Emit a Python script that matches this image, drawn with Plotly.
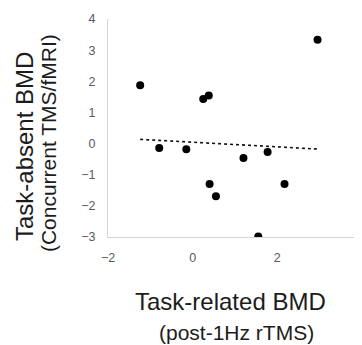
import numpy as np
import plotly.graph_objects as go

# Data
task_related_bmd = [-1.24, 0.25, 0.38, 2.95, -0.79, -0.15, 1.20, 1.77, 0.40, 0.55, 2.17, 1.55]
task_absent_bmd = [1.87, 1.43, 1.54, 3.33, -0.14, -0.18, -0.46, -0.27, -1.30, -1.69, -1.30, -2.98]
x_tick_vals = [-2, 0, 2, 4]
y_tick_vals = [-3, -2, -1, 0, 1, 2, 3, 4]

# Linear trendline fitted to the data
slope, intercept = np.polyfit(task_related_bmd, task_absent_bmd, 1)
trend_x = [min(task_related_bmd), max(task_related_bmd)]
trend_y = [slope * v + intercept for v in trend_x]

fig = go.Figure()
fig.add_trace(go.Scatter(
    x=trend_x, y=trend_y, mode="lines",
    line=dict(color="#111111", width=1.6, dash="dot"),
    hoverinfo="skip", showlegend=False,
))
fig.add_trace(go.Scatter(
    x=task_related_bmd, y=task_absent_bmd, mode="markers",
    marker=dict(color="#000000", size=8),
    showlegend=False,
))

font_family = "Liberation Sans, Arial, sans-serif"
axis_common = dict(
    showgrid=False, zeroline=False, showline=True,
    linecolor="#d4d4d4", linewidth=1.2, ticks="",
    tickfont=dict(family=font_family, size=12.5, color="#5a5a5a"),
    automargin=False, ticklabeloverflow="allow",
)
fig.update_xaxes(range=[-2, 4], tickvals=x_tick_vals, ticklabelstandoff=9, **axis_common)
fig.update_yaxes(range=[-3, 4], tickvals=y_tick_vals, ticklabelstandoff=9, **axis_common)

title_color = "#1c1c1c"
annotations = [
    dict(text="Task-absent BMD", x=-0.331, y=0.417, textangle=-90,
         font=dict(family=font_family, size=24, color=title_color)),
    dict(text="(Concurrent TMS/fMRI)", x=-0.236, y=0.431, textangle=-90,
         font=dict(family=font_family, size=21, color=title_color)),
    dict(text="Task-related BMD", x=0.484, y=-0.298,
         font=dict(family=font_family, size=24, color=title_color)),
    dict(text="(post-1Hz rTMS)", x=0.504, y=-0.436,
         font=dict(family=font_family, size=21, color=title_color)),
]
for a in annotations:
    a.update(xref="paper", yref="paper", xanchor="center", yanchor="middle", showarrow=False)

# The page places the figure 8px in from the top-left corner, so the figure
# is sized to end exactly at the window edges.
fig.update_layout(
    width=354, height=337,
    margin=dict(l=100, r=0, t=11, b=108, pad=0),
    paper_bgcolor="white", plot_bgcolor="white",
    annotations=annotations,
    showlegend=False,
)

fig.write_html("out.html")
